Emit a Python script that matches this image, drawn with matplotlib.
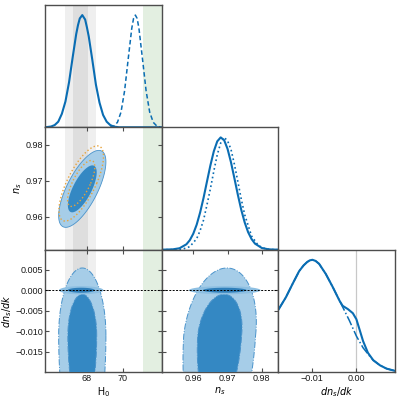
import numpy as np
import matplotlib
matplotlib.use('Agg')
import matplotlib.pyplot as plt
from matplotlib.patches import Polygon

plt.rcParams['font.family'] = ['Liberation Sans', 'DejaVu Sans']
plt.rcParams['mathtext.fontset'] = 'dejavusans'

# ---- 1D marginals (peak normalised to 1) ----
h0_x_a = [65.66, 66.0, 66.2, 66.4, 66.6, 66.8, 67.0, 67.2, 67.4, 67.5, 67.6, 67.74,
          67.9, 68.0, 68.1, 68.3, 68.5, 68.7, 68.9, 69.1, 69.3, 69.5, 69.8, 72.17]
h0_y_a = [0.0, 0.007, 0.02, 0.05, 0.12, 0.23, 0.40, 0.62, 0.83, 0.91, 0.97, 1.0,
          0.96, 0.89, 0.81, 0.60, 0.38, 0.22, 0.11, 0.05, 0.02, 0.006, 0.0, 0.0]

h0_x_d = [69.3, 69.5, 69.7, 69.9, 70.1, 70.3, 70.5, 70.6, 70.7, 70.8, 70.9, 71.1,
          71.3, 71.5, 71.7, 71.9, 72.1]
h0_y_d = [0.002, 0.011, 0.044, 0.135, 0.325, 0.607, 0.882, 0.97, 1.0, 0.97, 0.882, 0.607,
          0.325, 0.135, 0.044, 0.011, 0.002]

ns_x_a = [0.9508, 0.954, 0.956, 0.958, 0.959, 0.960, 0.961, 0.962, 0.963, 0.964, 0.965,
          0.966, 0.967, 0.968, 0.969, 0.970, 0.971, 0.972, 0.973, 0.974, 0.975, 0.976,
          0.977, 0.978, 0.980, 0.982, 0.9848]
ns_y_a = [0.0, 0.003, 0.013, 0.048, 0.085, 0.142, 0.223, 0.331, 0.461, 0.607, 0.751,
          0.877, 0.965, 1.0, 0.976, 0.898, 0.779, 0.636, 0.49, 0.355, 0.243, 0.156,
          0.095, 0.054, 0.015, 0.003, 0.0]

ns_x_b = [0.9508, 0.955, 0.957, 0.959, 0.961, 0.962, 0.963, 0.964, 0.965, 0.966, 0.967,
          0.968, 0.969, 0.970, 0.971, 0.972, 0.973, 0.974, 0.975, 0.977, 0.979, 0.981,
          0.983, 0.9848]
ns_y_b = [0.0, 0.001, 0.006, 0.027, 0.098, 0.17, 0.264, 0.40, 0.543, 0.70, 0.846,
          0.95, 1.0, 0.97, 0.894, 0.76, 0.607, 0.45, 0.312, 0.122, 0.036, 0.008,
          0.001, 0.0]

dk_x_a = [-0.0175, -0.0158, -0.0143, -0.0128, -0.0118, -0.0110, -0.0104, -0.0098, -0.0091,
          -0.0083, -0.0068, -0.0052, -0.0037, -0.0030, -0.0018, -0.0007, 0.0001, 0.0008,
          0.0016, 0.0027, 0.0039, 0.0054, 0.0069, 0.0088]
dk_y_a = [0.554, 0.665, 0.784, 0.899, 0.950, 0.980, 0.995, 1.0, 0.99,
          0.964, 0.874, 0.755, 0.635, 0.590, 0.560, 0.524, 0.470, 0.380,
          0.276, 0.171, 0.105, 0.060, 0.030, 0.010]

dk_x_c = [-0.0175, -0.0158, -0.0143, -0.0128, -0.0118, -0.0110, -0.0104, -0.0098, -0.0091,
          -0.0083, -0.0068, -0.0052, -0.0037, -0.0033, -0.0015, 0.0001, 0.0016, 0.0031,
          0.0039, 0.0054, 0.0069, 0.0088]
dk_y_c = [0.554, 0.665, 0.784, 0.899, 0.950, 0.980, 0.995, 1.0, 0.99,
          0.964, 0.874, 0.755, 0.635, 0.604, 0.46, 0.32, 0.216, 0.141,
          0.105, 0.060, 0.030, 0.010]

# ---- 2D contour summaries ----
# order: H0, n_s, dn_s/dk ; separate widths above / below the centre
mean_a = [67.74, 0.9677, -0.0110]
sig_up_a = [0.53, 0.0043, 0.0066]
sig_dn_a = [0.53, 0.0043, 0.0120]
rho_a = {(0, 1): 0.70, (0, 2): 0.0, (1, 2): 0.2}

mean_b = [67.68, 0.9692, 0.0]
sig_up_b = [0.50, 0.0042, 0.0004]
sig_dn_b = [0.50, 0.0042, 0.0004]
rho_b = {(0, 1): 0.72, (0, 2): 0.0, (1, 2): 0.0}

# reference bands on H0
planck_1s = (67.24, 68.07)
planck_2s = (66.80, 68.49)
local_band = (71.13, 75.0)

h0_lim = (65.66, 72.17)
ns_lim = (0.9508, 0.9848)
dk_lim = (-0.0199, 0.00986)
dk_lim_1d = (-0.0175, 0.0088)

h0_ticks, h0_labels = [68, 70], ['68', '70']
ns_ticks, ns_labels = [0.96, 0.97, 0.98], ['0.96', '0.97', '0.98']
dk_ticks = [0.005, 0.0, -0.005, -0.010, -0.015]
dk_labels = ['0.005', '0.000', '\u22120.005', '\u22120.010', '\u22120.015']
dk_ticks_1d, dk_labels_1d = [-0.01, 0.0], ['\u22120.01', '0.00']

blue = '#0A6DB3'
fill_light = '#A6CDE8'
fill_dark = '#3488C3'
edge_blue = '#4A93CB'
orange = '#E8A33A'
spine_c = '#4d4d4d'

K68, K95 = np.sqrt(2.30), np.sqrt(6.18)

fig = plt.figure(figsize=(3.99, 4.0), dpi=100)
W, H = 399.0, 400.0
x_edges = [45, 161.7, 278.3, 395]
y_edges = [5, 127.3, 249.7, 372]


def panel(r, c):
    x0, x1 = x_edges[c] / W, x_edges[c + 1] / W
    y0, y1 = 1 - y_edges[r + 1] / H, 1 - y_edges[r] / H
    ax = fig.add_axes([x0, y0, x1 - x0, y1 - y0])
    for s in ax.spines.values():
        s.set_color(spine_c)
        s.set_linewidth(1.0)
    ax.tick_params(direction='in', length=3, width=0.8, colors=spine_c,
                   labelcolor='#1a1a1a', labelsize=6.5, pad=1.5)
    return ax


def contour(mean, sup, sdn, rho, i, j, k, **kw):
    t = np.linspace(0, 2 * np.pi, 240)
    s = np.sin(t)
    r = rho[(i, j)]
    sy = np.where(s >= 0, sup[j], sdn[j])
    x = mean[i] + sup[i] * k * (np.sqrt(1 - r ** 2) * np.cos(t) + r * s)
    y = mean[j] + sy * k * s
    return Polygon(np.column_stack([x, y]), closed=True, **kw)


def h0_bands(ax):
    ax.axvspan(*planck_2s, color='#EFEFEF', lw=0, zorder=0)
    ax.axvspan(*planck_1s, color='#DEDEDE', lw=0, zorder=0)
    ax.axvspan(*local_band, color='#E3EFE1', lw=0, zorder=0)


def running_contours(ax, i):
    ax.add_patch(contour(mean_a, sig_up_a, sig_dn_a, rho_a, i, 2, K95, fc=fill_light,
                         ec=edge_blue, lw=0.7, ls='-.', zorder=2))
    ax.add_patch(contour(mean_a, sig_up_a, sig_dn_a, rho_a, i, 2, K68, fc=fill_dark,
                         ec=edge_blue, lw=0.7, ls='-.', zorder=3))
    ax.add_patch(contour(mean_b, sig_up_b, sig_dn_b, rho_b, i, 2, K95, fc='#8DBFE2',
                         ec='none', zorder=4))
    ax.add_patch(contour(mean_b, sig_up_b, sig_dn_b, rho_b, i, 2, K68, fc='#2F7FBA',
                         ec='none', zorder=4))
    ax.axhline(0, color='k', lw=0.7, dashes=(2, 1.5), zorder=5)


# ---- diagonal: H0 ----
ax1 = panel(0, 0)
h0_bands(ax1)
ax1.plot(h0_x_d, h0_y_d, color=blue, lw=1.1, dashes=(3, 1.8))
ax1.plot(h0_x_a, h0_y_a, color=blue, lw=1.5)
ax1.set_xlim(h0_lim)
ax1.set_ylim(0, 1.09)
ax1.tick_params(bottom=False, left=False, labelbottom=False, labelleft=False)

# ---- H0 vs n_s ----
ax4 = panel(1, 0)
h0_bands(ax4)
ax4.add_patch(contour(mean_a, sig_up_a, sig_dn_a, rho_a, 0, 1, K95, fc=fill_light,
                      ec=edge_blue, lw=0.6, zorder=2))
ax4.add_patch(contour(mean_a, sig_up_a, sig_dn_a, rho_a, 0, 1, K68, fc=fill_dark,
                      ec='none', zorder=3))
ax4.add_patch(contour(mean_b, sig_up_b, sig_dn_b, rho_b, 0, 1, K95, fill=False, ec=orange,
                      lw=1.0, ls=':', zorder=4))
ax4.add_patch(contour(mean_b, sig_up_b, sig_dn_b, rho_b, 0, 1, K68, fill=False, ec=orange,
                      lw=1.0, ls=':', zorder=4))
ax4.set_xlim(h0_lim)
ax4.set_ylim(ns_lim)
ax4.set_xticks(h0_ticks)
ax4.set_yticks(ns_ticks, ns_labels)
ax4.tick_params(top=True, right=True, labelbottom=False)
ax4.set_ylabel('$n_s$', fontsize=7, labelpad=1)

# ---- diagonal: n_s ----
ax5 = panel(1, 1)
ax5.plot(ns_x_b, ns_y_b, color=blue, lw=1.2, ls=':')
ax5.plot(ns_x_a, ns_y_a, color=blue, lw=1.5)
ax5.set_xlim(ns_lim)
ax5.set_ylim(0, 1.09)
ax5.tick_params(bottom=False, left=False, labelbottom=False, labelleft=False)

# ---- H0 vs dn_s/dk ----
ax7 = panel(2, 0)
h0_bands(ax7)
running_contours(ax7, 0)
ax7.set_xlim(h0_lim)
ax7.set_ylim(dk_lim)
ax7.set_xticks(h0_ticks, h0_labels)
ax7.set_yticks(dk_ticks, dk_labels)
ax7.tick_params(top=True, right=True)
ax7.set_xlabel('H$_0$', fontsize=7, labelpad=1.5)
ax7.set_ylabel('$dn_s/dk$', fontsize=7, labelpad=1)

# ---- n_s vs dn_s/dk ----
ax8 = panel(2, 1)
running_contours(ax8, 1)
ax8.set_xlim(ns_lim)
ax8.set_ylim(dk_lim)
ax8.set_xticks(ns_ticks, ns_labels)
ax8.set_yticks(dk_ticks)
ax8.tick_params(top=True, right=True, labelleft=False)
ax8.set_xlabel('$n_s$', fontsize=7, labelpad=1.5)

# ---- diagonal: dn_s/dk ----
ax9 = panel(2, 2)
ax9.axvline(0, color='#C8C8C8', lw=0.9, zorder=0)
ax9.plot(dk_x_c, dk_y_c, color=blue, lw=1.1, ls='-.')
ax9.plot(dk_x_a, dk_y_a, color=blue, lw=1.5)
ax9.set_xlim(dk_lim_1d)
ax9.set_ylim(0, 1.09)
ax9.set_xticks(dk_ticks_1d, dk_labels_1d)
ax9.tick_params(left=False, labelleft=False)
ax9.set_xlabel('$dn_s/dk$', fontsize=7, labelpad=1.5)

fig.savefig('out.png', dpi=100)
